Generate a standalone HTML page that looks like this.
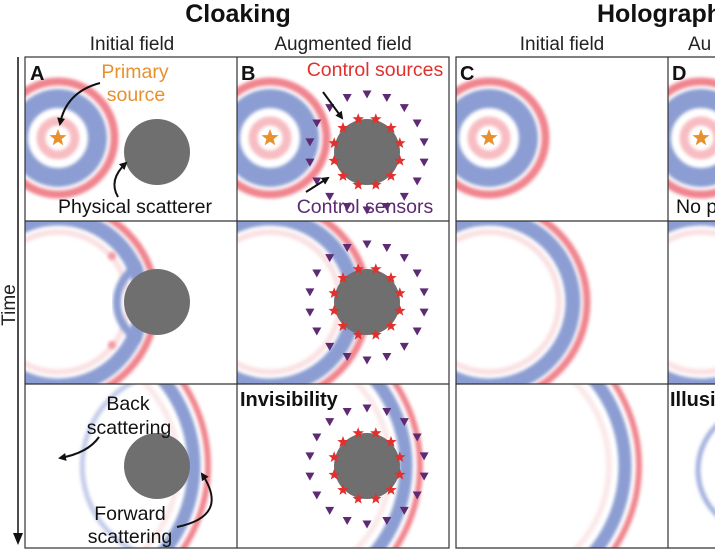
<!DOCTYPE html>
<html><head><meta charset="utf-8"><style>
html,body{margin:0;padding:0;background:#fff;width:715px;height:550px;overflow:hidden}
svg{display:block}
text{font-family:"Liberation Sans",Arial,sans-serif}
</style></head><body>
<svg width="715" height="550" viewBox="0 0 715 550" xmlns="http://www.w3.org/2000/svg" overflow="hidden">
<defs>
<filter id="bl" x="-20%" y="-20%" width="140%" height="140%"><feGaussianBlur stdDeviation="1.6"/></filter>
<marker id="ah" markerWidth="8" markerHeight="8" refX="6" refY="4" orient="auto" markerUnits="userSpaceOnUse"><path d="M0,0 L8,4 L0,8 Z" fill="#111"/></marker>
<path id="st" d="M0,-6 L1.47,-2.02 L5.71,-1.85 L2.38,0.77 L3.53,4.85 L0,2.5 L-3.53,4.85 L-2.38,0.77 L-5.71,-1.85 L-1.47,-2.02 Z"/>
<path id="tr" d="M-4.5,-3.5 L4.5,-3.5 L0,4.5 Z" fill="#5e2a73"/>
<g id="w1" filter="url(#bl)">
<circle r="17" fill="none" stroke="#f29aa2" stroke-width="9" opacity="0.65"/>
<circle r="39.5" fill="none" stroke="#8b9dd2" stroke-width="19"/>
<circle r="56.5" fill="none" stroke="#f0848e" stroke-width="8"/>
</g>
<g id="w2" filter="url(#bl)">
<circle r="70" fill="none" stroke="#f3b4b9" stroke-width="6" opacity="0.4"/>
<circle r="84" fill="none" stroke="#8b9dd2" stroke-width="15"/>
<circle r="98" fill="none" stroke="#f0848e" stroke-width="7"/>
</g>
<g id="w3" filter="url(#bl)">
<circle r="120" fill="none" stroke="#f3c0c4" stroke-width="6" opacity="0.35"/>
<circle r="136" fill="none" stroke="#8b9dd2" stroke-width="13"/>
<circle r="150" fill="none" stroke="#f0848e" stroke-width="6"/>
</g>
<g id="ctl">
<circle r="33" fill="#6f6f6f"/>
<g fill="#e0312f">
<use href="#st" x="32.8" y="8.8"/><use href="#st" x="24" y="24"/><use href="#st" x="8.8" y="32.8"/>
<use href="#st" x="-8.8" y="32.8"/><use href="#st" x="-24" y="24"/><use href="#st" x="-32.8" y="8.8"/>
<use href="#st" x="-32.8" y="-8.8"/><use href="#st" x="-24" y="-24"/><use href="#st" x="-8.8" y="-32.8"/>
<use href="#st" x="8.8" y="-32.8"/><use href="#st" x="24" y="-24"/><use href="#st" x="32.8" y="-8.8"/>
</g>
<use href="#tr" x="57.1" y="10.1"/><use href="#tr" x="50.2" y="29"/><use href="#tr" x="37.3" y="44.4"/>
<use href="#tr" x="19.8" y="54.5"/><use href="#tr" x="0" y="58"/><use href="#tr" x="-19.8" y="54.5"/>
<use href="#tr" x="-37.3" y="44.4"/><use href="#tr" x="-50.2" y="29"/><use href="#tr" x="-57.1" y="10.1"/>
<use href="#tr" x="-57.1" y="-10.1"/><use href="#tr" x="-50.2" y="-29"/><use href="#tr" x="-37.3" y="-44.4"/>
<use href="#tr" x="-19.8" y="-54.5"/><use href="#tr" x="0" y="-58"/><use href="#tr" x="19.8" y="-54.5"/>
<use href="#tr" x="37.3" y="-44.4"/><use href="#tr" x="50.2" y="-29"/><use href="#tr" x="57.1" y="-10.1"/>
</g>
<clipPath id="cA1"><rect x="25" y="57" width="212" height="164"/></clipPath>
<clipPath id="cB1"><rect x="237" y="57" width="212" height="164"/></clipPath>
<clipPath id="cC1"><rect x="456" y="57" width="212" height="164"/></clipPath>
<clipPath id="cD1"><rect x="668" y="57" width="50" height="164"/></clipPath>
<clipPath id="cA2"><rect x="25" y="221" width="212" height="163"/></clipPath>
<clipPath id="cB2"><rect x="237" y="221" width="212" height="163"/></clipPath>
<clipPath id="cC2"><rect x="456" y="221" width="212" height="163"/></clipPath>
<clipPath id="cD2"><rect x="668" y="221" width="50" height="163"/></clipPath>
<clipPath id="cA3"><rect x="25" y="384" width="212" height="164"/></clipPath>
<clipPath id="cB3"><rect x="237" y="384" width="212" height="164"/></clipPath>
<clipPath id="cC3"><rect x="456" y="384" width="212" height="164"/></clipPath>
<clipPath id="cD3"><rect x="668" y="384" width="50" height="164"/></clipPath>
</defs>

<!-- titles -->
<text x="238" y="22" font-size="25" font-weight="bold" text-anchor="middle" fill="#111">Cloaking</text>
<text x="597" y="22" font-size="25" font-weight="bold" fill="#111">Holographi</text>
<text x="132" y="50" font-size="19" text-anchor="middle" fill="#222">Initial field</text>
<text x="343" y="50" font-size="19" text-anchor="middle" fill="#222">Augmented field</text>
<text x="562" y="50" font-size="19" text-anchor="middle" fill="#222">Initial field</text>
<text x="688" y="50" font-size="19" fill="#222">Au</text>

<!-- row 1 -->
<g clip-path="url(#cA1)"><use href="#w1" x="58" y="138"/><circle cx="157" cy="152" r="33" fill="#6f6f6f"/></g>
<g clip-path="url(#cB1)"><use href="#w1" x="270" y="138"/><use href="#ctl" x="367" y="152"/></g>
<g clip-path="url(#cC1)"><use href="#w1" x="489" y="138"/></g>
<g clip-path="url(#cD1)"><use href="#w1" x="701" y="138"/></g>
<g fill="#e8912c">
<path transform="translate(58 138) scale(1.5)" d="M0,-6 L1.47,-2.02 L5.71,-1.85 L2.38,0.77 L3.53,4.85 L0,2.5 L-3.53,4.85 L-2.38,0.77 L-5.71,-1.85 L-1.47,-2.02 Z"/>
<path transform="translate(270 138) scale(1.5)" d="M0,-6 L1.47,-2.02 L5.71,-1.85 L2.38,0.77 L3.53,4.85 L0,2.5 L-3.53,4.85 L-2.38,0.77 L-5.71,-1.85 L-1.47,-2.02 Z"/>
<path transform="translate(489 138) scale(1.5)" d="M0,-6 L1.47,-2.02 L5.71,-1.85 L2.38,0.77 L3.53,4.85 L0,2.5 L-3.53,4.85 L-2.38,0.77 L-5.71,-1.85 L-1.47,-2.02 Z"/>
<path transform="translate(701 138) scale(1.5)" d="M0,-6 L1.47,-2.02 L5.71,-1.85 L2.38,0.77 L3.53,4.85 L0,2.5 L-3.53,4.85 L-2.38,0.77 L-5.71,-1.85 L-1.47,-2.02 Z"/>
</g>
<!-- row 2 -->
<g clip-path="url(#cA2)"><use href="#w2" x="58" y="302"/>
<path d="M140,265 A42,42 0 0 0 140,340" fill="none" stroke="#8b9dd2" stroke-width="8" filter="url(#bl)"/>
<circle cx="112" cy="256" r="4" fill="#f29aa2" filter="url(#bl)"/><circle cx="112" cy="345" r="4" fill="#f29aa2" filter="url(#bl)"/>
<circle cx="157" cy="302" r="33" fill="#6f6f6f"/></g>
<g clip-path="url(#cB2)"><use href="#w2" x="270" y="302"/><use href="#ctl" x="367" y="302"/></g>
<g clip-path="url(#cC2)"><use href="#w2" x="489" y="302"/></g>
<g clip-path="url(#cD2)"><use href="#w2" x="701" y="302"/></g>
<!-- row 3 -->
<g clip-path="url(#cA3)"><use href="#w3" x="58" y="466"/>
<path d="M150,375 A95,95 0 0 0 150,557" fill="none" stroke="#aab6e0" stroke-width="5" opacity="0.7" filter="url(#bl)"/>
<circle cx="157" cy="466" r="33" fill="#6f6f6f"/></g>
<g clip-path="url(#cB3)"><use href="#w3" x="270" y="466"/><use href="#ctl" x="367" y="466"/></g>
<g clip-path="url(#cC3)"><use href="#w3" x="489" y="466"/></g>
<g clip-path="url(#cD3)"><circle cx="760" cy="470" r="62" fill="none" stroke="#a5b2de" stroke-width="5" filter="url(#bl)"/></g>

<!-- grid lines -->
<g fill="none" stroke="#333" stroke-width="1.2">
<rect x="25" y="57" width="424" height="491"/>
<line x1="237" y1="57" x2="237" y2="548"/>
<line x1="25" y1="221" x2="449" y2="221"/><line x1="25" y1="384" x2="449" y2="384"/>
<path d="M716,57 H456 V548 H716"/>
<line x1="668" y1="57" x2="668" y2="548"/>
<line x1="456" y1="221" x2="716" y2="221"/><line x1="456" y1="384" x2="716" y2="384"/>
</g>

<!-- time axis -->
<line x1="18" y1="57" x2="18" y2="536" stroke="#111" stroke-width="1.5"/>
<path d="M13,533 L18,545 L23,533 Z" fill="#111"/>
<text transform="translate(15,305) rotate(-90)" font-size="19" text-anchor="middle" fill="#222">Time</text>

<!-- labels -->
<g font-weight="bold" font-size="20" fill="#111">
<text x="30" y="80">A</text><text x="241" y="80">B</text><text x="460" y="80">C</text><text x="672" y="80">D</text>
<text x="240" y="406">Invisibility</text><text x="670" y="406">Illusi</text>
</g>
<g font-size="19.5" text-anchor="middle">
<text x="135" y="78" fill="#e8912c">Primary</text><text x="136" y="101" fill="#e8912c">source</text>
<text x="135" y="213" fill="#111">Physical scatterer</text>
<text x="375" y="76" fill="#e0312f">Control sources</text>
<text x="365" y="213" fill="#5e2a73">Control sensors</text>
<text x="128" y="410" fill="#111">Back</text><text x="129" y="434" fill="#111">scattering</text>
<text x="130" y="520" fill="#111">Forward</text><text x="130" y="543" fill="#111">scattering</text>
</g>
<text x="676" y="213" font-size="19.5" fill="#111">No p</text>

<!-- arrows -->
<g fill="none" stroke="#111" stroke-width="2" marker-end="url(#ah)">
<path d="M100,83 Q66,92 60,124"/>
<path d="M118,197 Q108,180 126,163"/>
<path d="M323,92 L342,118"/>
<path d="M306,192 L328,178"/>
<path d="M99,437 Q88,453 60,458"/>
<path d="M177,527 Q230,516 202,474"/>
</g>
</svg>
</body></html>
